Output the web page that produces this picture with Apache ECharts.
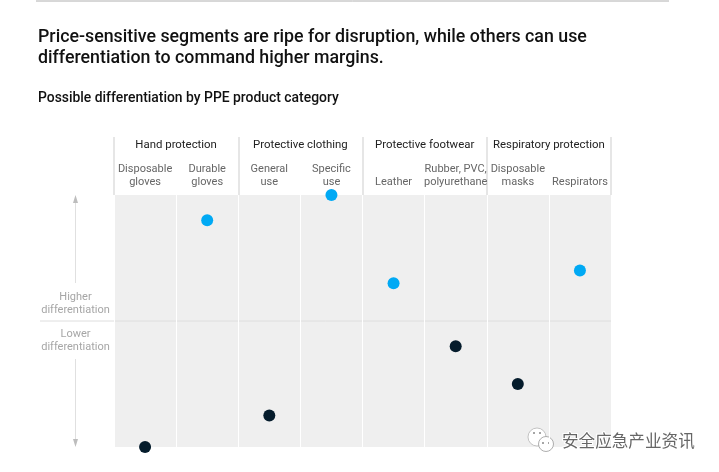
<!DOCTYPE html>
<html><head><meta charset="utf-8">
<style>html,body{margin:0;padding:0;background:#fff}#c{width:719px;height:472px}</style>
<script src="https://cdn.jsdelivr.net/npm/echarts@6/dist/echarts.min.js"></script>
</head><body><div id="c"></div>
<script>
const groups = ['Hand protection','Protective clothing','Protective footwear','Respiratory protection'];
const categories = ['Disposable\ngloves','Durable\ngloves','General\nuse','Specific\nuse','Leather','Rubber, PVC,\npolyurethane','Disposable\nmasks','Respirators'];
const higher = [[1,90],[3,100],[4,65],[7,70]];
const lower = [[0,0],[2,12.5],[5,40],[6,25]];
const FONT = 'Roboto, "Liberation Sans", sans-serif';
const chart = echarts.init(document.getElementById('c'), null, {renderer:'canvas'});
const line = (x1,y1,x2,y2,stroke,lineWidth)=>({type:'line',shape:{x1,y1,x2,y2},style:{stroke,lineWidth},silent:true});
const txt = (x,y,text,o)=>({type:'text',x,y,style:Object.assign({text,fontFamily:FONT},o),silent:true});
const dot = (cx,cy,r,fill)=>({type:'circle',shape:{cx,cy,r},style:{fill},silent:true});
const axisTxt = {fill:'#a6a6a6',fontSize:11,align:'center',verticalAlign:'middle'};
chart.setOption({
  animation:false,
  backgroundColor:'#fff',
  title:[
    {text:'Price-sensitive segments are ripe for disruption, while others can use\ndifferentiation to command higher margins.',left:38,top:27,padding:0,
      textStyle:{fontFamily:FONT,fontWeight:500,fontSize:17.8,lineHeight:21,color:'#111'}},
    {text:'Possible differentiation by PPE product category',left:38,top:92,padding:0,
      textStyle:{fontFamily:FONT,fontWeight:500,fontSize:13.9,color:'#111'}}
  ],
  grid:{left:114,right:108,top:195,bottom:25,show:true,backgroundColor:'#efefef',borderWidth:0},
  xAxis:[
    {type:'category',position:'top',data:categories,
      axisLine:{show:false},axisTick:{show:false},
      axisLabel:{interval:0,margin:6,color:'#666',fontFamily:FONT,fontSize:11,lineHeight:13,verticalAlign:'bottom'},
      splitLine:{show:true,interval:0,lineStyle:{color:'#fff',width:1}}},
    {type:'category',position:'top',data:groups,
      axisLine:{show:false},
      axisTick:{show:true,interval:0,length:58,lineStyle:{color:'#dedede',width:1.5}},
      axisLabel:{interval:0,margin:50,color:'#222',fontFamily:FONT,fontSize:11.4,verticalAlign:'middle'},
      splitLine:{show:false}}
  ],
  yAxis:{type:'value',min:0,max:100,show:false,splitLine:{show:false}},
  series:[
    {name:'Higher differentiation',type:'scatter',data:higher,symbolSize:12,clip:false,itemStyle:{color:'#00a9f4',opacity:1},z:5},
    {name:'Lower differentiation',type:'scatter',data:lower,symbolSize:12,clip:false,itemStyle:{color:'#051c2c',opacity:1},z:5}
  ],
  graphic:[
    line(36,1,669,1,'#b0b0b0',1),
    line(40,321,611,321,'#dedede',1),
    line(75.5,200,75.5,283,'#e0e0e0',1),
    line(75.5,359,75.5,440,'#e0e0e0',1),
    {type:'polygon',shape:{points:[[75.5,195],[73,203],[78,203]]},style:{fill:'#bdbdbd'},silent:true},
    {type:'polygon',shape:{points:[[75.5,447],[73,439],[78,439]]},style:{fill:'#bdbdbd'},silent:true},
    txt(75.5,297,'Higher',axisTxt),
    txt(75.5,310,'differentiation',axisTxt),
    txt(75.5,334,'Lower',axisTxt),
    txt(75.5,347,'differentiation',axisTxt),
    {type:'circle',shape:{cx:537,cy:437,r:9},style:{fill:'#fff',stroke:'#b5b5b5',lineWidth:0.8},silent:true},
    {type:'circle',shape:{cx:546,cy:444,r:7.5},style:{fill:'#fff',stroke:'#999',lineWidth:0.8},silent:true},
    dot(534,433,1,'#888'),dot(540,433,1,'#888'),dot(543,443,1,'#888'),dot(549,443,1,'#888'),
    txt(562,441,'安全应急产业资讯',{fill:'#666',fontSize:16.6,verticalAlign:'middle',fontFamily:'"Noto Sans CJK SC"',stroke:'#fff',lineWidth:2})
  ]
});
</script></body></html>
